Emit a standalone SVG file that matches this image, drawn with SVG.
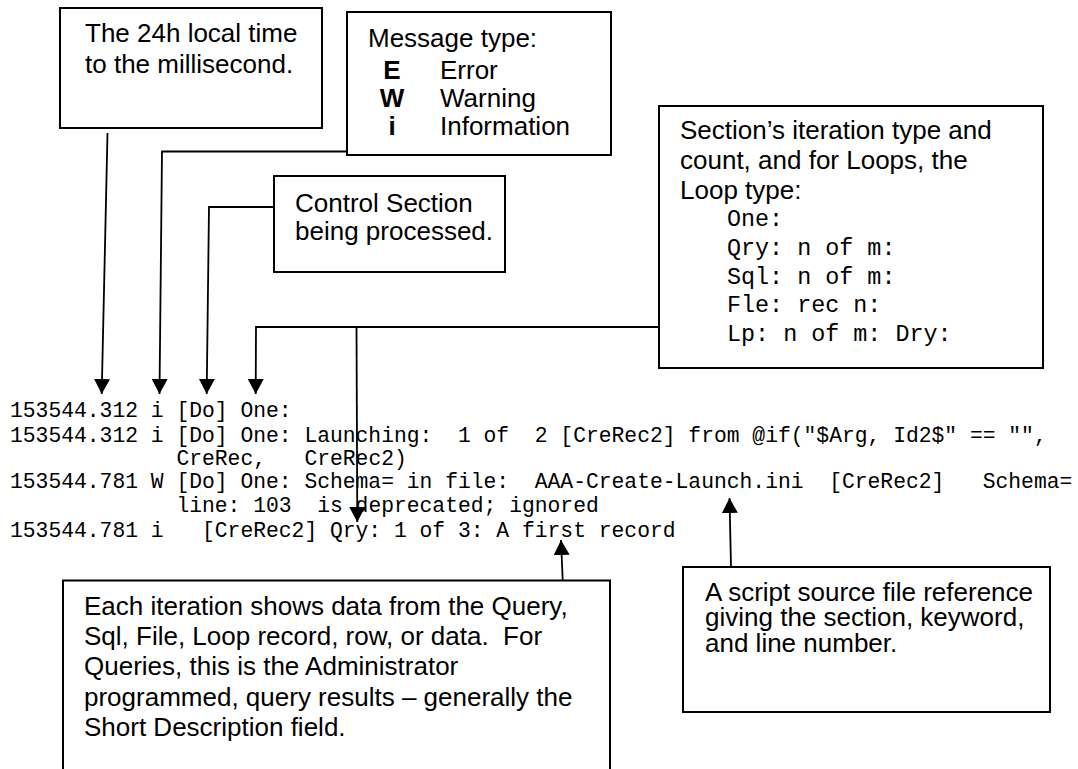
<svg xmlns="http://www.w3.org/2000/svg" width="1078" height="769" viewBox="0 0 1078 769">
  <defs>
    <style>
      .box { fill: #fff; stroke: #000; stroke-width: 2; }
      .t { font-family: "Liberation Sans", Arial, sans-serif; font-size: 26px; fill: #000; }
      .b { font-weight: bold; text-anchor: middle; }
      .m { font-family: "Liberation Mono", "Courier New", monospace; fill: #000; }
      .log { font-size: 21.33px; }
      .mb { font-size: 23.4px; }
      .c { fill: none; stroke: #000; stroke-width: 1.8; }
    </style>
    <marker id="ah" markerUnits="userSpaceOnUse" markerWidth="15" markerHeight="16" viewBox="0 0 15 16" refX="15" refY="8" orient="auto">
      <path d="M0,0 L15,8 L0,16 Z" fill="#000"/>
    </marker>
  </defs>

  <rect width="1078" height="769" fill="#fff"/>

  <!-- Timestamp callout -->
  <g id="time-box">
    <rect class="box" x="60" y="8" width="262" height="120"/>
    <text class="t" x="85" y="42">The 24h local time</text>
    <text class="t" x="85" y="73">to the millisecond.</text>
  </g>

  <!-- Message type legend -->
  <g id="msgtype-box">
    <rect class="box" x="347" y="12" width="264" height="143"/>
    <text class="t" x="368" y="47">Message type:</text>
    <text class="t b" x="392" y="79">E</text>
    <text class="t" x="440" y="79">Error</text>
    <text class="t b" x="392" y="107">W</text>
    <text class="t" x="440" y="107">Warning</text>
    <text class="t b" x="392" y="135">i</text>
    <text class="t" x="440" y="135">Information</text>
  </g>

  <!-- Control section callout -->
  <g id="section-box">
    <rect class="box" x="274" y="176" width="231" height="96"/>
    <text class="t" x="295" y="212">Control Section</text>
    <text class="t" x="295" y="240">being processed.</text>
  </g>

  <!-- Iteration type callout -->
  <g id="iteration-box">
    <rect class="box" x="659" y="106" width="384" height="262"/>
    <text class="t" x="680" y="139">Section’s iteration type and</text>
    <text class="t" x="680" y="169">count, and for Loops, the</text>
    <text class="t" x="680" y="199">Loop type:</text>
    <text class="m mb" x="727" y="226">One:</text>
    <text class="m mb" x="727" y="255">Qry: n of m:</text>
    <text class="m mb" x="727" y="284">Sql: n of m:</text>
    <text class="m mb" x="727" y="312">Fle: rec n:</text>
    <text class="m mb" x="727" y="341">Lp: n of m: Dry:</text>
  </g>

  <!-- Sample log output -->
  <g id="log">
    <text class="m log" x="10" y="417" xml:space="preserve">153544.312 i [Do] One:</text>
    <text class="m log" x="10" y="441.5" xml:space="preserve">153544.312 i [Do] One: Launching:  1 of  2 [CreRec2] from @if("$Arg, Id2$" == "",</text>
    <text class="m log" x="176.4" y="465" xml:space="preserve">CreRec,   CreRec2)</text>
    <text class="m log" x="10" y="488" xml:space="preserve">153544.781 W [Do] One: Schema= in file:  AAA-Create-Launch.ini  [CreRec2]   Schema=</text>
    <text class="m log" x="176.4" y="512" xml:space="preserve">line: 103  is deprecated; ignored</text>
    <text class="m log" x="10" y="536.5" xml:space="preserve">153544.781 i   [CreRec2] Qry: 1 of 3: A first record</text>
  </g>

  <!-- Iteration data callout (open at the bottom) -->
  <g id="data-box">
    <path class="box" d="M63,775 V580.5 H610 V775"/>
    <text class="t" x="84" y="615">Each iteration shows data from the Query,</text>
    <text class="t" x="84" y="645" xml:space="preserve">Sql, File, Loop record, row, or data.  For</text>
    <text class="t" x="84" y="675">Queries, this is the Administrator</text>
    <text class="t" x="84" y="706">programmed, query results – generally the</text>
    <text class="t" x="84" y="736">Short Description field.</text>
  </g>

  <!-- Source reference callout -->
  <g id="source-box">
    <rect class="box" x="683" y="567" width="367" height="145"/>
    <text class="t" x="705" y="601">A script source file reference</text>
    <text class="t" x="705" y="626">giving the section, keyword,</text>
    <text class="t" x="705" y="652">and line number.</text>
  </g>

  <!-- Connectors -->
  <g id="connectors">
    <line class="c" x1="107.5" y1="133" x2="101.7" y2="394" marker-end="url(#ah)"/>
    <polyline class="c" points="347,151.5 162,151.5 159.5,394" marker-end="url(#ah)"/>
    <polyline class="c" points="274,207 209,207 206.7,394" marker-end="url(#ah)"/>
    <polyline class="c" points="659,327 256,327 255.7,394" marker-end="url(#ah)"/>
    <line class="c" x1="356.5" y1="327" x2="357.3" y2="522" marker-end="url(#ah)"/>
    <line class="c" x1="562.7" y1="580" x2="561" y2="540" marker-end="url(#ah)"/>
    <line class="c" x1="731" y1="567" x2="729.5" y2="498" marker-end="url(#ah)"/>
  </g>
</svg>
